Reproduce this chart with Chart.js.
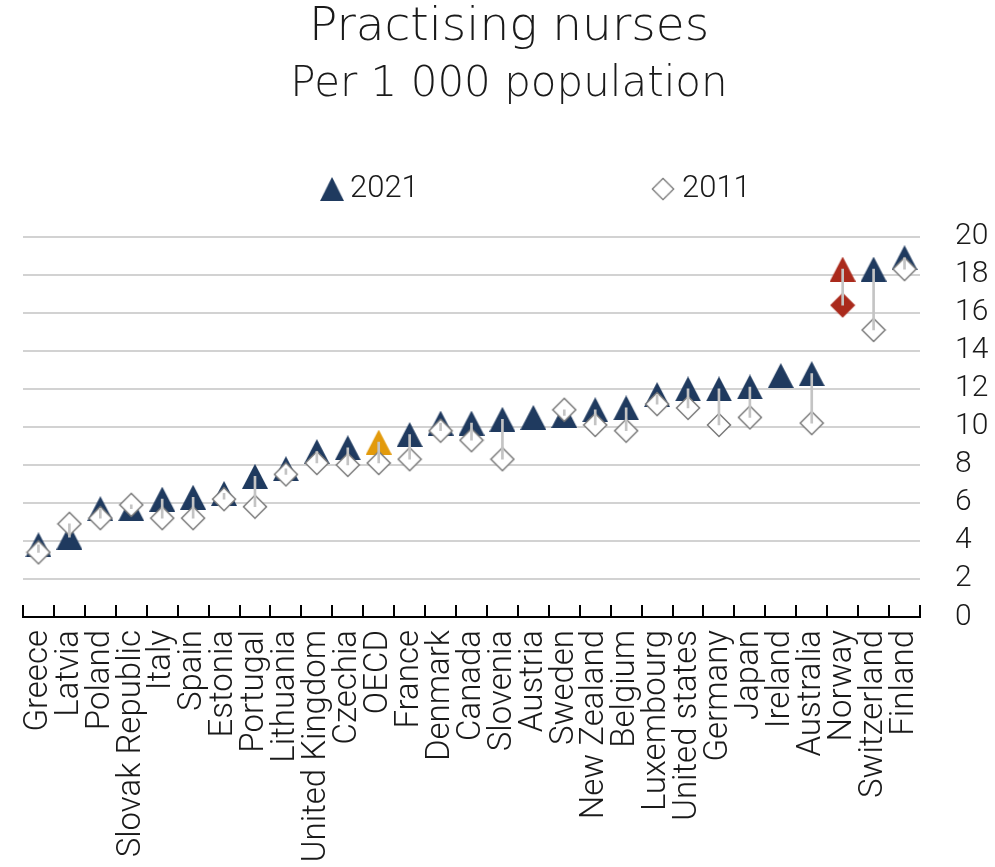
<!DOCTYPE html>
<html>
<head>
<meta charset="utf-8">
<title>Practising nurses</title>
<script src="https://cdn.jsdelivr.net/npm/chart.js@4.4.1/dist/chart.umd.min.js"></script>
<style>
  html, body { margin: 0; padding: 0; background: #fff; }
  #wrap { width: 995px; height: 867px; position: relative; }
</style>
</head>
<body>
<div id="wrap"><canvas id="nurses"></canvas></div>
<script>
// per 1 000 population
const countries = ["Greece", "Latvia", "Poland", "Slovak Republic", "Italy", "Spain", "Estonia",
  "Portugal", "Lithuania", "United Kingdom", "Czechia", "OECD", "France", "Denmark", "Canada",
  "Slovenia", "Austria", "Sweden", "New Zealand", "Belgium", "Luxembourg", "United states",
  "Germany", "Japan", "Ireland", "Australia", "Norway", "Switzerland", "Finland"];
const nurses2021 = [3.8, 4.2, 5.7, 5.7, 6.2, 6.3, 6.5, 7.4, 7.8, 8.7, 8.9, 9.2, 9.6, 10.2, 10.2,
  10.4, 10.5, 10.6, 10.9, 11.0, 11.7, 12.0, 12.0, 12.1, 12.7, 12.8, 18.3, 18.3, 18.9];
const nurses2011 = [3.4, 4.9, 5.2, 5.9, 5.2, 5.2, 6.2, 5.8, 7.5, 8.1, 8.0, 8.1, 8.3, 9.8, 9.3,
  8.3, null, 10.9, 10.1, 9.8, 11.2, 11.0, 10.1, 10.5, null, 10.2, 16.4, 15.1, 18.3];
const seriesNames = ["2021", "2011"];
const yMin = 0, yMax = 20, yStep = 2;

const NAVY = "#1f3a5f", ORANGE = "#e29a0c", RED = "#aa2a1c";
const thin = "Roboto, 'Liberation Sans', sans-serif";
const light = "'DejaVu Sans', 'Open Sans', sans-serif";

function triangle(color) {
  const c = document.createElement("canvas");
  c.width = 26; c.height = 25;
  const g = c.getContext("2d");
  g.fillStyle = color;
  g.beginPath();
  g.moveTo(13, 0); g.lineTo(26, 25); g.lineTo(0, 25);
  g.closePath();
  g.fill();
  return c;
}
function diamond(fill, stroke) {
  const c = document.createElement("canvas");
  c.width = 26; c.height = 26;
  const g = c.getContext("2d");
  g.fillStyle = fill;
  g.strokeStyle = stroke;
  g.lineWidth = 1.5;
  g.beginPath();
  g.moveTo(13, 1.5); g.lineTo(24.5, 13); g.lineTo(13, 24.5); g.lineTo(1.5, 13);
  g.closePath();
  g.fill();
  g.stroke();
  return c;
}

const triNavy = triangle(NAVY), triOrange = triangle(ORANGE), triRed = triangle(RED);
const diaPlain = diamond("#fff", "#7a7a7a"), diaRed = diamond(RED, RED);

const styles2021 = countries.map((c) => c === "OECD" ? triOrange : c === "Norway" ? triRed : triNavy);
const styles2011 = countries.map((c) => c === "Norway" ? diaRed : diaPlain);

// little legend drawn above the plot
const legendPlugin = {
  id: "markerLegend",
  afterDraw(chart) {
    const ctx = chart.ctx;
    const y = 189;
    ctx.save();
    ctx.font = "300 31px " + thin;
    ctx.fillStyle = "#1a1a1a";
    ctx.textBaseline = "middle";
    ctx.textAlign = "left";
    ctx.drawImage(triNavy, 332 - 12, y - 12, 24, 24);
    ctx.fillText(seriesNames[0], 350, y);
    ctx.drawImage(diaPlain, 663 - 12, y - 12, 24, 24);
    ctx.fillText(seriesNames[1], 682, y);
    ctx.restore();
  },
};

new Chart(document.getElementById("nurses"), {
  type: "bar",
  data: {
    labels: countries,
    datasets: [
      {
        type: "bar",
        label: "change",
        data: countries.map((_, i) => nurses2011[i] == null ? null : [nurses2011[i], nurses2021[i]]),
        backgroundColor: "#c4c4c4",
        barThickness: 2,
        order: 0,
      },
      {
        type: "line",
        label: seriesNames[1],
        data: nurses2011,
        showLine: false,
        pointStyle: styles2011,
        pointRadius: 12,
        order: 1,
      },
      {
        type: "line",
        label: seriesNames[0],
        data: nurses2021,
        showLine: false,
        pointStyle: styles2021,
        pointRadius: 12,
        order: 2,
      },
    ],
  },
  options: {
    responsive: true,
    maintainAspectRatio: false,
    animation: false,
    layout: { padding: { left: 23, right: 0, top: 0, bottom: 0 } },
    plugins: {
      legend: { display: false },
      tooltip: { enabled: false },
      title: {
        display: true,
        text: "Practising nurses",
        color: "#1a1a1a",
        font: { family: light, size: 47, weight: 200 },
        padding: { top: 0, bottom: 1 },
      },
      subtitle: {
        display: true,
        text: "Per 1 000 population",
        color: "#1a1a1a",
        font: { family: light, size: 42, weight: 200 },
        padding: { top: 2, bottom: 127 },
      },
    },
    scales: {
      x: {
        offset: true,
        grid: {
          offset: true,
          drawOnChartArea: false,
          drawTicks: true,
          tickLength: -12,
          color: "#000",
          lineWidth: 2,
        },
        border: { color: "#000", width: 2 },
        ticks: {
          autoSkip: false,
          minRotation: 90,
          maxRotation: 90,
          padding: 25,
          color: "#1a1a1a",
          font: { family: thin, size: 33, weight: 300 },
        },
        afterFit: (scale) => { scale.height = 250; },
      },
      y: {
        position: "right",
        min: yMin,
        max: yMax,
        ticks: {
          stepSize: yStep,
          autoSkip: false,
          padding: 35,
          color: "#1a1a1a",
          font: { family: thin, size: 30, weight: 300 },
        },
        grid: { color: "#d2d2d2", lineWidth: 2, drawTicks: false },
        border: { display: false },
        afterFit: (scale) => { scale.width = 75; },
      },
    },
  },
  plugins: [legendPlugin],
});
</script>
</body>
</html>
